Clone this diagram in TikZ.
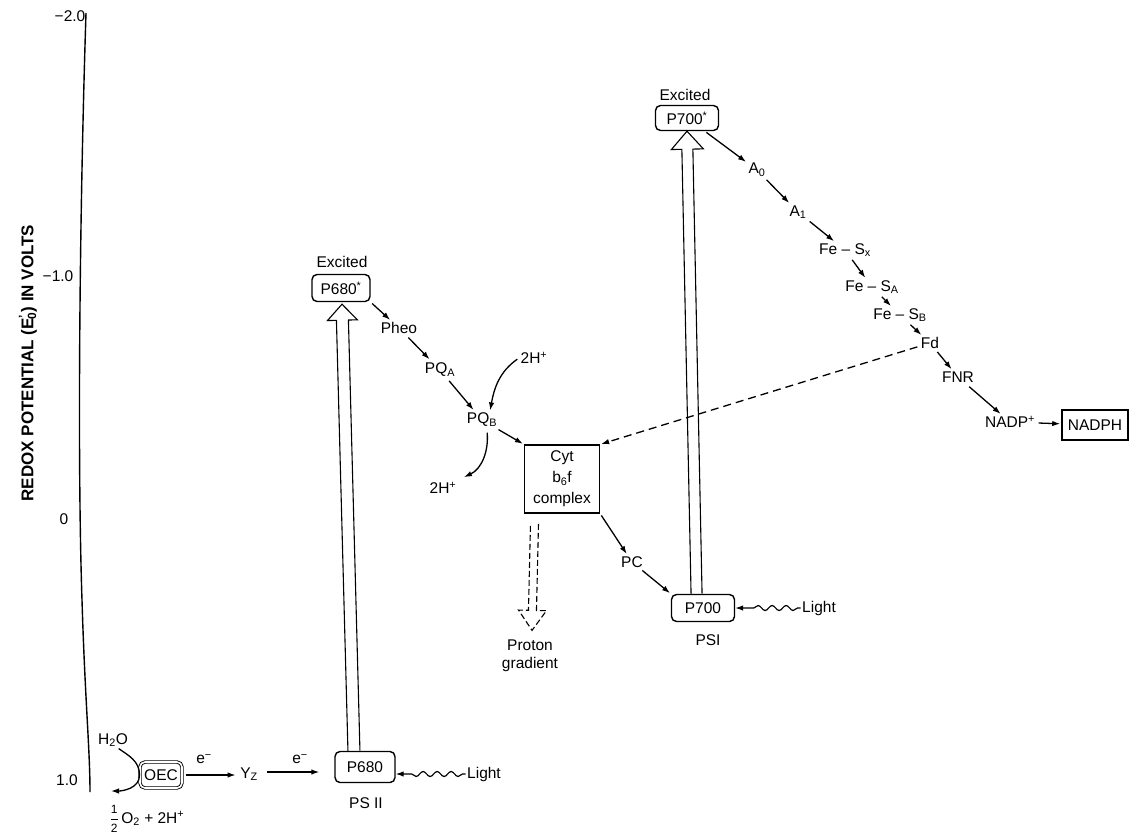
\documentclass[tikz,border=0pt]{standalone}
\usepackage{fontspec}
\setmainfont{Liberation Sans}
\usepackage{amsmath}
\usetikzlibrary{arrows.meta,calc,decorations.pathmorphing}
\newcommand\labfont{\fontsize{15.5}{18}\selectfont}
\newcommand\fracfont{\fontsize{12}{12}\selectfont}
\tikzset{
  lab/.style={font=\labfont, inner sep=1.5pt},
  rbox/.style={font=\labfont, draw, line width=1.4pt, rounded corners=5pt, inner sep=0pt},
  sbox/.style={font=\labfont, draw, line width=1.4pt, inner sep=0pt},
  arr/.style={line width=1.3pt, -{Latex[length=8pt,width=5.5pt]}, shorten >=1pt, shorten <=2pt},
  darr/.style={arr, dash pattern=on 8pt off 5pt},
  wavy/.style={line width=1.2pt, -{Latex[length=8pt,width=5.5pt]}, decorate,
     decoration={snake, amplitude=2.5pt, segment length=14pt, pre length=3pt, post length=12pt}},
  openarr/.style={line width=1.1pt, line join=miter},
  axisline/.style={line width=1.4pt}
}
% #1 style, #2 base, #3 tip, #4 shaft half width, #5 head half width, #6 head length
\newcommand\openarrow[6]{%
  \coordinate (oaH) at ($(#3)!#6!(#2)$);
  \draw[#1] ($(#2)!#4!90:(#3)$) -- ($(oaH)!#4!90:(#3)$) -- ($(oaH)!#5!90:(#3)$) -- (#3)
     -- ($(oaH)!#5!-90:(#3)$) -- ($(oaH)!#4!-90:(#3)$) -- ($(#2)!#4!-90:(#3)$);
}
\begin{document}
\begin{tikzpicture}[x=1pt,y=1pt]
\useasboundingbox (0,0) rectangle (1132,-836);

% axis
\draw[axisline] (86,-13) .. controls (80,-200) and (77,-450) .. (82,-600) .. controls (85,-700) and (90,-750) .. (90,-792);
\node[lab, font=\bfseries\fontsize{17}{19}\selectfont, rotate=90] (axlab) at (28,-363)
  {REDOX POTENTIAL (E\textsuperscript{'}\kern-0.3em\textsubscript{0}) IN VOLTS};
\node[lab] (tm2) at (70,-16) {−2.0};
\node[lab] (tm1) at (58,-276) {−1.0};
\node[lab] (t0) at (64,-519) {0};
\node[lab] (t1) at (67,-780) {1.0};

% PS II side
\node[lab] (h2o) at (113,-740) {H\textsubscript{2}O};
\node[font=\labfont, draw, double, double distance=1.6pt, line width=0.9pt, rounded corners=5pt,
      minimum width=42pt, minimum height=26pt, inner sep=0pt] (oec) at (161,-775) {OEC};
\node[lab] (half) at (147,-819) {$\dfrac{\text{\fracfont 1}}{\text{\fracfont 2}}$\,O\textsubscript{2} + 2H\textsuperscript{+}};
\coordinate (oecend) at (110,-791);
\node[lab] (yz) at (249,-774) {Y\textsubscript{Z}};
\node[lab] (e1) at (204,-759) {e\textsuperscript{−}};
\node[lab] (e2) at (300,-759) {e\textsuperscript{−}};
\node[rbox, minimum width=60pt, minimum height=31pt] (p680) at (365,-767) {P680};
\node[lab] (ps2) at (366,-803) {PS II};
\node[lab] (light1) at (484,-774) {Light};

\node[rbox, minimum width=58pt, minimum height=27pt] (p680s) at (341,-288) {P680\textsuperscript{*}};
\node[lab] (exc1) at (342,-262) {Excited};
\node[lab] (pheo) at (399,-328) {Pheo};
\node[lab] (pqa) at (440,-370) {PQ\textsubscript{A}};
\node[lab] (pqb) at (482,-420) {PQ\textsubscript{B}};
\node[lab] (h2top) at (534,-358) {2H\textsuperscript{+}};
\node[lab] (h2bot) at (443,-488) {2H\textsuperscript{+}};

\node[sbox, minimum width=75pt, minimum height=68pt, align=center,
      font=\fontsize{15.5}{21}\selectfont] (cyt) at (562,-479) {Cyt\\b\textsubscript{6}f\\complex};
\node[lab, align=center, font=\fontsize{15.5}{18}\selectfont] (proton) at (530,-656) {Proton\\gradient};
\node[lab] (pc) at (632,-562) {PC};

% PS I side
\node[rbox, minimum width=63pt, minimum height=27pt] (p700) at (703,-608) {P700};
\node[lab] (ps1) at (708,-640) {PSI};
\node[lab] (light2) at (819,-608) {Light};
\node[rbox, minimum width=63pt, minimum height=25pt] (p700s) at (687,-118) {P700\textsuperscript{*}};
\node[lab] (exc2) at (685,-95) {Excited};
\node[lab] (a0) at (757,-170) {A\textsubscript{0}};
\node[lab] (a1) at (798,-212) {A\textsubscript{1}};
\node[lab] (fesx) at (845,-250) {Fe – S\textsubscript{x}};
\node[lab] (fesa) at (872,-287) {Fe – S\textsubscript{A}};
\node[lab] (fesb) at (900,-315) {Fe – S\textsubscript{B}};
\node[lab] (fd) at (930,-343) {Fd};
\node[lab] (fnr) at (958,-377) {FNR};
\node[lab] (nadp) at (1010,-422) {NADP\textsuperscript{+}};
\node[sbox, line width=1.6pt, minimum width=66pt, minimum height=30pt] (nadph) at (1095,-425) {NADPH};

% connectors PS II
\draw[arr] ($(h2o.south)+(4,1)$) to[out=-35,in=90] (oec.west) to[out=-90,in=0] (oecend);
\draw[arr, shorten <=4pt] (oec.east) -- ($(oec.east -| yz.west)+(-2,0)$);
\coordinate (yzr) at ($(yz.east)+(6,2)$);
\draw[arr] (yzr) -- ($(yzr -| p680.west)+(-14,0)$);
\draw[wavy] (light1.west) -- (light1.west -| p680.east);
\coordinate (b680) at ($(p680.north west)!0.32!(p680.north east)$);
\coordinate (t680) at ($(p680s.south)+(1,-2)$);
\openarrow{openarr}{b680}{t680}{6pt}{15pt}{16pt}
\draw[arr] (p680s.south east) -- (pheo);
\draw[arr, shorten <=3pt, shorten >=3pt] (pheo) -- (pqa);
\draw[arr, shorten <=3pt, shorten >=2pt] (pqa) -- (pqb);
\draw[arr] (h2top.west) to[out=215,in=80] ($(pqb.north)+(8,0)$);
\draw[arr] ($(pqb.south)+(5,-2)$) to[out=-85,in=25] ($(h2bot.north east)+(5,3)$);
\draw[arr] (pqb) -- (cyt.north west);
\draw[arr] (cyt.south east) -- (pc);
\draw[arr] (pc) -- (p700.north west);
\coordinate (pgb) at ($(cyt.south west)!0.14!(cyt.south east)+(0,-10)$);
\coordinate (pgt) at ($(proton.north)+(2,8)$);
\openarrow{openarr, dash pattern=on 6pt off 3pt}{pgb}{pgt}{4pt}{14pt}{20pt}

% connectors PS I
\draw[wavy] (light2.west) -- (light2.west -| p700.east);
\coordinate (b700) at ($(p700.north west)!0.40!(p700.north east)$);
\openarrow{openarr}{b700}{p700s.south}{5.5pt}{16pt}{18pt}
\draw[arr] (p700s) -- (a0);
\draw[arr] (a0) -- (a1);
\draw[arr] (a1) -- (fesx);
\draw[arr] (fesx) -- (fesa);
\draw[arr] (fesa) -- (fesb);
\draw[arr] (fesb) -- (fd);
\draw[arr] (fd) -- (fnr);
\draw[arr, shorten <=4pt] (fnr) -- (nadp);
\draw[arr] (nadp) -- (nadph);
\draw[darr] (fd) -- (cyt.north east);
\end{tikzpicture}
\end{document}
